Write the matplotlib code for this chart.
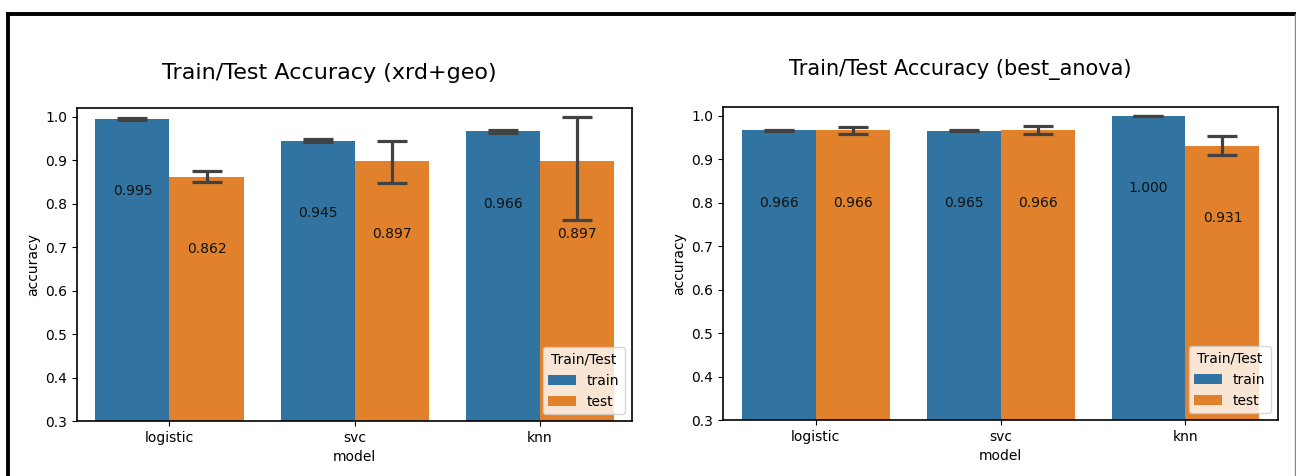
import matplotlib
matplotlib.use("Agg")
import matplotlib.pyplot as plt
from matplotlib.lines import Line2D
import numpy as np

# ---- data ----
models = ["logistic", "svc", "knn"]
splits = ["train", "test"]

# feature set: xrd+geo
xg_train = [0.995, 0.945, 0.966]
xg_test = [0.862, 0.897, 0.897]
xg_train_lo = [0.993, 0.942, 0.962]
xg_train_hi = [0.997, 0.948, 0.970]
xg_test_lo = [0.850, 0.847, 0.763]
xg_test_hi = [0.876, 0.944, 1.000]

# feature set: best_anova
ba_train = [0.966, 0.965, 1.000]
ba_test = [0.966, 0.966, 0.931]
ba_train_lo = [0.965, 0.964, 0.999]
ba_train_hi = [0.967, 0.966, 1.000]
ba_test_lo = [0.957, 0.957, 0.910]
ba_test_hi = [0.975, 0.976, 0.954]

titles = ["Train/Test Accuracy (xrd+geo)", "Train/Test Accuracy (best_anova)"]

colors = {"train": "#3274a1", "test": "#e1812c"}
err_color = "#424242"

fig = plt.figure(figsize=(12.96, 4.76), dpi=100)

ax_left = fig.add_axes([0.0594, 0.1155, 0.4283, 0.6576])
ax_right = fig.add_axes([0.5579, 0.1176, 0.4282, 0.6576])


def draw_panel(ax, train, test, tr_lo, tr_hi, te_lo, te_hi):
    x = np.arange(len(models))
    width = 0.4
    groups = [
        ("train", train, tr_lo, tr_hi, -width / 2),
        ("test", test, te_lo, te_hi, width / 2),
    ]
    for name, vals, lo, hi, off in groups:
        vals = np.asarray(vals)
        lo = np.asarray(lo)
        hi = np.asarray(hi)
        pos = x + off
        ax.bar(pos, vals, width=width, color=colors[name], label=name,
               edgecolor="none", zorder=2)
        ax.errorbar(pos, vals, yerr=[vals - lo, hi - vals], fmt="none",
                    ecolor=err_color, elinewidth=2.3, capsize=11,
                    capthick=2.3, zorder=3)
        for px, v in zip(pos, vals):
            ax.annotate(f"{v:.3f}", xy=(px, v), xytext=(0, -52),
                        textcoords="offset points", ha="center",
                        va="center", fontsize=10, color="#111111", zorder=4)
    ax.set_xlim(-0.5, len(models) - 0.5)
    ax.set_ylim(0.3, 1.02)
    ax.set_xticks(x)
    ax.set_xticklabels(models, fontsize=10)
    ax.set_yticks(np.arange(0.3, 1.01, 0.1))
    ax.set_yticklabels([f"{t:.1f}" for t in np.arange(0.3, 1.01, 0.1)],
                       fontsize=10)
    ax.set_xlabel("model", fontsize=10)
    ax.set_ylabel("accuracy", fontsize=10)
    for s in ax.spines.values():
        s.set_linewidth(1.2)
        s.set_color("black")
    ax.legend(title="Train/Test", loc="lower right", fontsize=10,
              title_fontsize=10)


draw_panel(ax_left, xg_train, xg_test, xg_train_lo, xg_train_hi,
           xg_test_lo, xg_test_hi)
draw_panel(ax_right, ba_train, ba_test, ba_train_lo, ba_train_hi,
           ba_test_lo, ba_test_hi)

fig.text(0.2542, 1 - 73 / 476, titles[0], ha="center", va="center",
         fontsize=16)
fig.text(0.7412, 1 - 70 / 476, titles[1], ha="center", va="center",
         fontsize=15)

# outer frame
top_y = 1 - 14 / 476
fig.add_artist(Line2D([8 / 1296, 8 / 1296], [0, top_y],
                      transform=fig.transFigure, color="black", lw=2.8,
                      solid_capstyle="projecting"))
fig.add_artist(Line2D([8 / 1296, 1.0], [top_y, top_y],
                      transform=fig.transFigure, color="black", lw=2.8,
                      solid_capstyle="projecting"))
fig.add_artist(Line2D([1294.5 / 1296, 1294.5 / 1296], [0, top_y],
                      transform=fig.transFigure, color="#888888", lw=1.0))

fig.savefig("out.png", dpi=100)
